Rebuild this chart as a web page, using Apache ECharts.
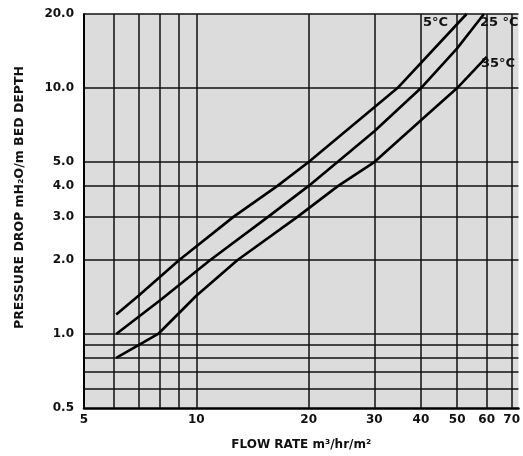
<!DOCTYPE html>
<html>
<head>
<meta charset="utf-8">
<script src="https://cdn.jsdelivr.net/npm/echarts@6/dist/echarts.min.js"></script>
<style>html,body{margin:0;padding:0;background:#fff}#c{width:523px;height:456px}</style>
</head>
<body>
<div id="c"></div>
<script>
// ---- data ----
const xTickLabels = [5, 10, 20, 30, 40, 50, 60, 70];
const yTickLabels = [0.5, 1, 2, 3, 4, 5, 10, 20];
const xGridValues = [6, 7, 8, 9, 10, 20, 30, 40, 50, 60, 70];
const yGridValues = [0.6, 0.7, 0.8, 0.9, 1, 2, 3, 4, 5, 10, 20];

const flow5C  = [6.1, 7, 9, 12.6, 16.5, 20, 34.6, 53];
const drop5C  = [1.2, 1.43, 2.0, 3.0, 4.0, 5.0, 10, 20];
const flow25C = [6.1, 8, 10.9, 15.6, 20, 23.9, 30, 40, 50, 59];
const drop25C = [1.0, 1.37, 2.0, 3.0, 4.0, 5.0, 6.67, 10, 14.5, 20];
const flow35C = [6.1, 7, 7.9, 10, 12.9, 18.7, 24, 30, 40, 50, 60];
const drop35C = [0.8, 0.9, 1.0, 1.43, 2.0, 3.0, 4.0, 5.0, 7.4, 10, 13.4];

const seriesNames = ['5°C', '25 °C', '35°C'];

const pairs = (xs, ys) => xs.map((x, i) => [x, ys[i]]);
const FONT = '"DejaVu Sans", Verdana, sans-serif';

const chart = echarts.init(document.getElementById('c'), null, {renderer: 'canvas'});
const lineStyle = {color: '#000', width: 2.6};
const gridLineStyle = {color: '#111', width: 1.5, type: 'solid'};

chart.setOption({
  animation: false,
  backgroundColor: '#fff',
  grid: {left: 84, right: 1, top: 14, bottom: 48, show: true, backgroundColor: '#dcdcdc', borderWidth: 0},
  xAxis: {
    type: 'log', logBase: 10, min: 5, max: 73,
    axisLine: {show: true, lineStyle: {color: '#000', width: 2.5}},
    axisTick: {show: false},
    splitLine: {show: false},
    axisLabel: {customValues: xTickLabels, formatter: v => String(Math.round(v)),
      color: '#111', fontWeight: 'bold', fontSize: 12, fontFamily: FONT, margin: 6},
    name: 'FLOW RATE m³/hr/m²', nameLocation: 'middle', nameGap: 31,
    nameTextStyle: {color: '#111', fontWeight: 'bold', fontSize: 12, fontFamily: FONT}
  },
  yAxis: {
    type: 'log', logBase: 10, min: 0.5, max: 20,
    axisLine: {show: true, lineStyle: {color: '#000', width: 2}},
    axisTick: {show: false},
    splitLine: {show: false},
    axisLabel: {customValues: yTickLabels, formatter: v => Number(v).toFixed(1),
      color: '#111', fontWeight: 'bold', fontSize: 12, fontFamily: FONT, margin: 10},
    name: 'PRESSURE DROP mH₂O/m BED DEPTH', nameLocation: 'middle', nameGap: 58,
    nameTextStyle: {color: '#111', fontWeight: 'bold', fontSize: 12.5, fontFamily: FONT, padding: [0, 0, 0, 27]}
  },
  series: [
    {
      name: seriesNames[0], type: 'line', data: pairs(flow5C, drop5C),
      showSymbol: false, lineStyle, z: 5,
      markLine: {
        silent: true, symbol: 'none', label: {show: false}, lineStyle: gridLineStyle, z: 2,
        data: xGridValues.map(v => ({xAxis: v})).concat(yGridValues.map(v => ({yAxis: v})))
      }
    },
    {name: seriesNames[1], type: 'line', data: pairs(flow25C, drop25C), showSymbol: false, lineStyle, z: 5},
    {name: seriesNames[2], type: 'line', data: pairs(flow35C, drop35C), showSymbol: false, lineStyle, z: 5}
  ],
  graphic: [
    {type: 'text', left: 423, top: 16, z: 10, style: {text: seriesNames[0], fill: '#111', font: 'bold 13px ' + FONT}},
    {type: 'text', left: 480, top: 16, z: 10, style: {text: seriesNames[1], fill: '#111', font: 'bold 13px ' + FONT}},
    {type: 'text', left: 481, top: 57, z: 10, style: {text: seriesNames[2], fill: '#111', font: 'bold 13px ' + FONT}}
  ]
});
</script>
</body>
</html>
